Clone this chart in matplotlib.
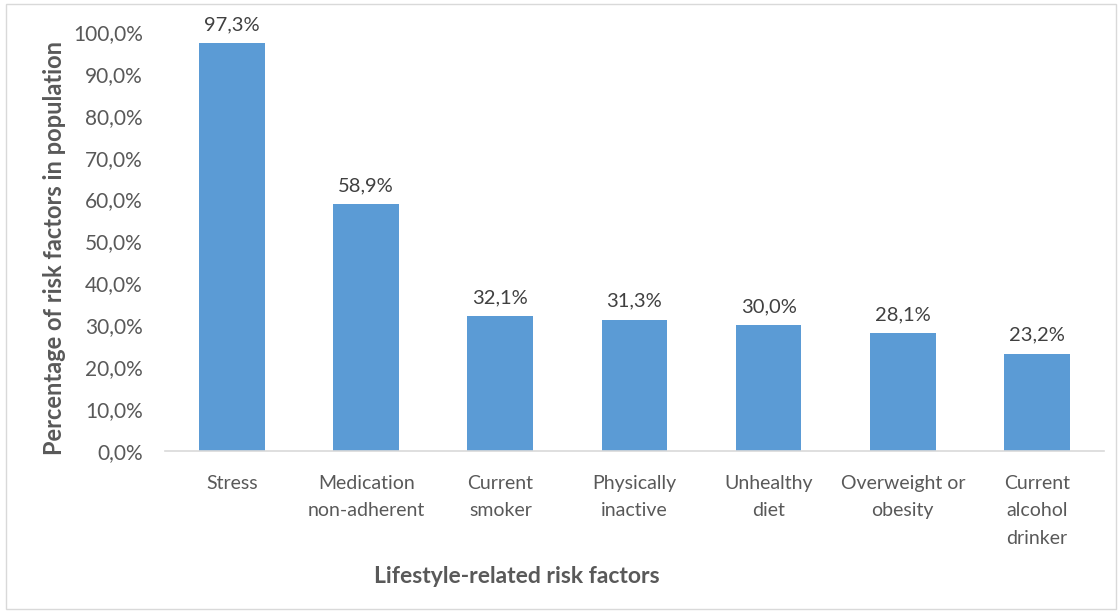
import matplotlib
matplotlib.use("Agg")
import matplotlib.pyplot as plt
from matplotlib.patches import Rectangle
from matplotlib.ticker import FuncFormatter

categories = ["Stress", "Medication\nnon-adherent", "Current\nsmoker", "Physically\ninactive",
              "Unhealthy\ndiet", "Overweight or\nobesity", "Current\nalcohol\ndrinker"]
values = [97.3, 58.9, 32.1, 31.3, 30.0, 28.1, 23.2]
y_ticks = [0, 10, 20, 30, 40, 50, 60, 70, 80, 90, 100]

plt.rcParams['font.family'] = ['Lato', 'DejaVu Sans']
text_color = "#595959"
bar_color = "#5B9BD5"

fig = plt.figure(figsize=(11.2, 6.13), dpi=100)
fig.patches.append(Rectangle((0.005, 0.007), 0.991, 0.986, transform=fig.transFigure,
                             fill=False, edgecolor="#D9D9D9", linewidth=1.0))
ax = fig.add_axes([0.1473, 0.2643, 0.8384, 0.6835])

x = list(range(len(categories)))
bars = ax.bar(x, values, width=0.49, color=bar_color)
for xi, v in zip(x, values):
    ax.text(xi, v + 2.4, f"{v:.1f}%".replace(".", ","), ha="center", va="bottom",
            fontsize=14.5, color="#404040")

ax.set_xlim(-0.5, len(categories) - 0.5)
ax.set_ylim(0, 100)
ax.set_yticks(y_ticks)
ax.yaxis.set_major_formatter(FuncFormatter(lambda v, p: f"{v:.1f}%".replace(".", ",")))
ax.set_xticks(x)
ax.set_xticklabels(categories, fontsize=14, color=text_color, linespacing=1.75, va="top")
ax.tick_params(axis="y", labelsize=15, labelcolor=text_color, length=0, pad=16)
ax.tick_params(axis="x", length=0, pad=17)

for s in ["top", "right", "left"]:
    ax.spines[s].set_visible(False)
ax.spines["bottom"].set_color("#D9D9D9")
ax.spines["bottom"].set_linewidth(1.2)

fig.text(0.049, 0.595, "Percentage of risk factors in population", rotation=90,
         ha="center", va="center", fontsize=17, fontweight="bold", color=text_color)
fig.text(0.461, 0.059, "Lifestyle-related risk factors", ha="center", va="center",
         fontsize=16.5, fontweight="bold", color=text_color)

fig.savefig("out.png", dpi=100)
